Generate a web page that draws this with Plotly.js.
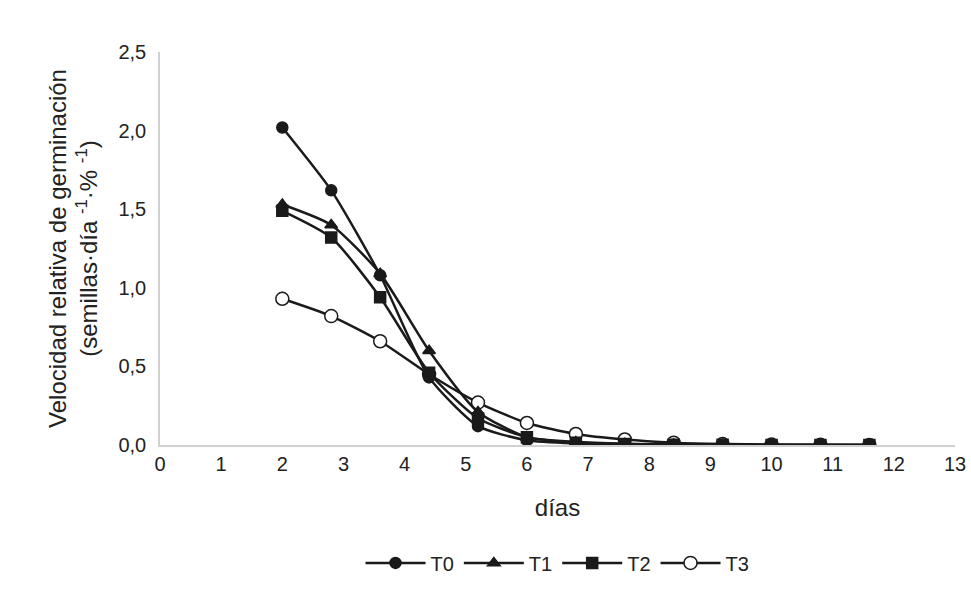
<!DOCTYPE html>
<html>
<head>
<meta charset="utf-8">
<script src="https://cdn.plot.ly/plotly-3.0.1.min.js"></script>
<style>body{margin:0;background:#fff}</style>
</head>
<body>
<div id="chart" style="width:971px;height:595px"></div>
<script>
const dias = [2, 2.8, 3.6, 4.4, 5.2, 6.0, 6.8, 7.6, 8.4, 9.2, 10, 10.8, 11.6];
const t0 = [2.02, 1.62, 1.08, 0.43, 0.12, 0.03, 0.01, 0.005, 0.002, 0.001, 0, 0, 0];
const t1 = [1.53, 1.40, 1.09, 0.60, 0.21, 0.05, 0.02, 0.008, 0.003, 0.001, 0, 0, 0];
const t2 = [1.49, 1.32, 0.94, 0.46, 0.17, 0.05, 0.015, 0.006, 0.002, 0.001, 0, 0, 0];
const t3 = [0.93, 0.82, 0.66, 0.45, 0.27, 0.14, 0.07, 0.035, 0.015, 0.006, 0.003, 0.001, 0];

const names = ['T0', 'T1', 'T2', 'T3'];
const series = [t0, t1, t2, t3];
const symbols = ['circle', 'triangle-up', 'square', 'circle'];
const drawOrder = [3, 0, 1, 2];

const data = drawOrder.map(i => ({
  x: dias, y: series[i], name: names[i], legendrank: i + 1,
  type: 'scatter', mode: 'lines+markers',
  line: {color: '#1a1a1a', width: 2.5, shape: 'spline', smoothing: 0.6},
  marker: {symbol: symbols[i], size: i === 3 ? 13 : 11, color: i === 3 ? '#fff' : '#1a1a1a',
           line: {color: '#1a1a1a', width: 1.5}}
}));

Plotly.newPlot('chart', data, {
  width: 971, height: 595,
  margin: {l: 160, r: 16, t: 52, b: 150},
  font: {family: 'Liberation Sans, Arial', size: 20, color: '#222'},
  paper_bgcolor: '#fff', plot_bgcolor: '#fff',
  xaxis: {range: [0, 13], dtick: 1, showgrid: false, zeroline: false,
          showline: true, linecolor: '#d0d0d0', linewidth: 1.5, ticks: '',
          title: {text: 'días', standoff: 25}},
  yaxis: {range: [0, 2.5], dtick: 0.5, tickformat: '.1f',
          showgrid: false, zeroline: false, showline: true, linecolor: '#d0d0d0', linewidth: 1.5,
          ticks: 'outside', ticklen: 8, tickcolor: 'rgba(0,0,0,0)',
          title: {text: 'Velocidad relativa de germinación<br>(semillas·día <sup>-1</sup>·% <sup>-1</sup>)', standoff: 14}},
  separators: ',.',
  legend: {orientation: 'h', x: 0.5, xanchor: 'center', y: -0.3, yanchor: 'middle', itemwidth: 60},
  showlegend: true
}, {displayModeBar: false});
</script>
</body>
</html>
